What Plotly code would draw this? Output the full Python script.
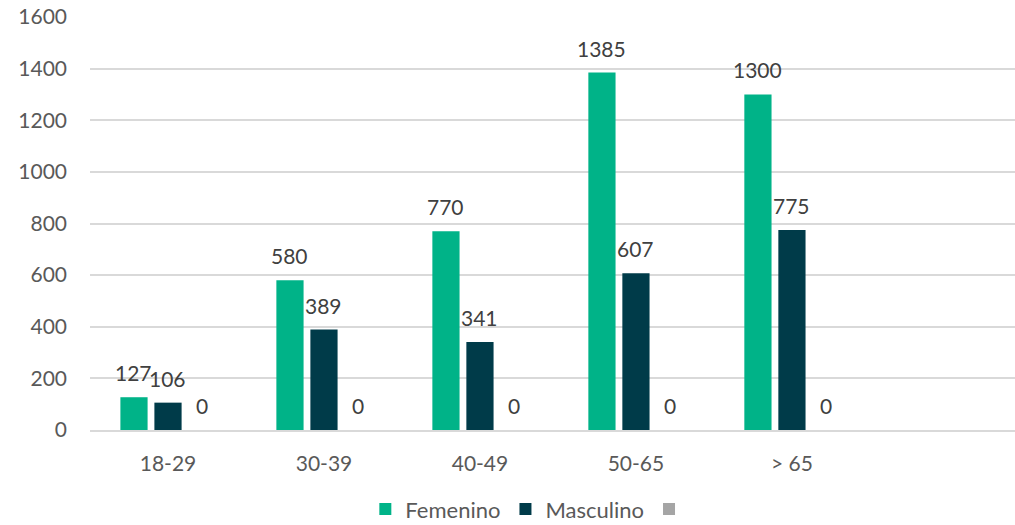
import plotly.graph_objects as go

# Age groups and counts per gender
age_groups = ['18-29', '30-39', '40-49', '50-65', '> 65']
femenino = [127, 580, 770, 1385, 1300]
masculino = [106, 389, 341, 607, 775]
sin_dato = [0, 0, 0, 0, 0]

series = [
    ('Femenino', femenino, '#00B388'),
    ('Masculino', masculino, '#003B49'),
    ('', sin_dato, '#A5A5A5'),
]

FONT = 'Lato, Open Sans, sans-serif'
TEXT_COLOR = '#595959'

fig = go.Figure()

slot = (1 - 0.346) / len(series)  # width of each bar slot in category units
annotations = []
for k, (name, values, color) in enumerate(series):
    fig.add_trace(go.Bar(
        x=list(range(len(age_groups))),
        y=values,
        name=name,
        marker=dict(color=color, line=dict(width=0)),
        showlegend=True,
    ))
    offset = (k - (len(series) - 1) / 2) * slot
    for i, v in enumerate(values):
        annotations.append(dict(
            x=i + offset, y=v, xref='x', yref='y',
            text=str(v), showarrow=False,
            yanchor='bottom', yshift=10,
            font=dict(family=FONT, size=21, color='#404040'),
        ))

fig.update_layout(
    barmode='group',
    bargap=0.346,
    bargroupgap=0.2,
    width=1015,
    height=525,
    margin=dict(l=90, r=0, t=17, b=95),
    plot_bgcolor='white',
    paper_bgcolor='white',
    font=dict(family=FONT, size=21, color=TEXT_COLOR),
    annotations=annotations,
    legend=dict(
        orientation='h',
        xref='container', x=0.522, xanchor='center',
        yref='container', y=0.03, yanchor='middle',
        font=dict(family=FONT, size=22, color=TEXT_COLOR),
        itemwidth=30,
    ),
    xaxis=dict(
        tickmode='array',
        tickvals=list(range(len(age_groups))),
        ticktext=age_groups,
        range=[-0.5, 5.43],
        showgrid=False,
        showline=True,
        linecolor='#D9D9D9',
        linewidth=1.5,
        ticks='',
        ticklabelstandoff=14,
        zeroline=False,
        automargin=False,
    ),
    yaxis=dict(
        range=[0, 1600],
        dtick=200,
        showgrid=True,
        gridcolor='#D9D9D9',
        gridwidth=1.5,
        zeroline=False,
        showline=False,
        ticks='',
        ticklabelstandoff=22,
        automargin=False,
    ),
)

# pin the page to the window so nothing scrolls or gets rescaled
page_fix = (
    "document.documentElement.style.overflow='hidden';"
    "document.body.style.margin='0';"
    "document.body.style.overflow='hidden';"
    "document.body.style.height='525px';"
)
fig.write_html("out.html", post_script=page_fix,
               config={'displayModeBar': False})
